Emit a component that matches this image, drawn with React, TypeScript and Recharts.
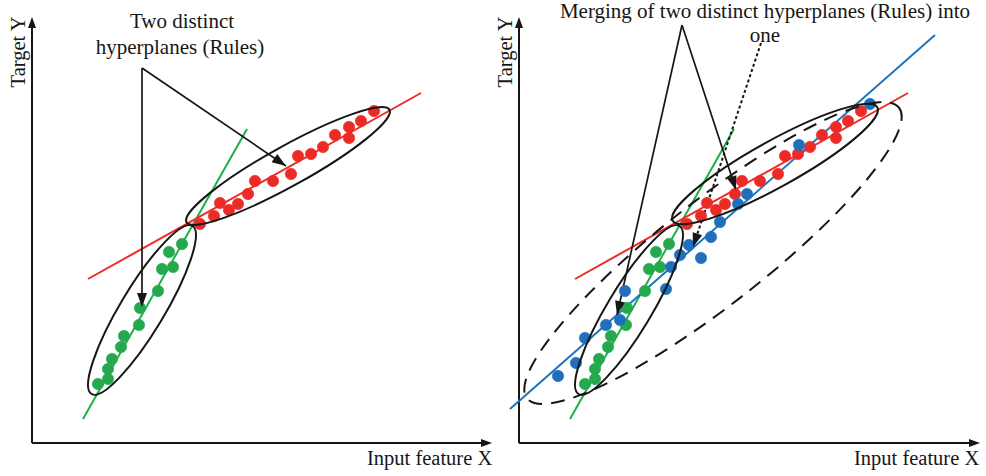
import { ScatterChart, Scatter, XAxis, YAxis, ReferenceLine, ReferenceDot } from 'recharts';

// points, origin at the axes corner, 1 unit ~ 1px
const greenPoints = [
  { x: 66, y: 59 }, { x: 76, y: 64 }, { x: 76, y: 74 }, { x: 80, y: 84 }, { x: 89, y: 96 },
  { x: 92, y: 107 }, { x: 107, y: 118 }, { x: 108, y: 135 }, { x: 126, y: 152 }, { x: 130, y: 174 },
  { x: 141, y: 176 }, { x: 137, y: 191 }, { x: 150, y: 199 },
];

const redPoints = [
  { x: 168, y: 219 }, { x: 182, y: 227 }, { x: 188, y: 240 }, { x: 197, y: 233 }, { x: 206, y: 239 },
  { x: 216, y: 249 }, { x: 223, y: 262 }, { x: 241, y: 262 }, { x: 259, y: 269 }, { x: 266, y: 287 },
  { x: 279, y: 289 }, { x: 291, y: 296 }, { x: 303, y: 308 }, { x: 317, y: 316 }, { x: 317, y: 305 },
  { x: 329, y: 322 }, { x: 342, y: 332 },
];

const bluePoints = [
  { x: 39, y: 67 }, { x: 57, y: 80 }, { x: 66, y: 105 }, { x: 87, y: 118 }, { x: 101, y: 123 },
  { x: 106, y: 152 }, { x: 147, y: 154 }, { x: 152, y: 176 }, { x: 161, y: 188 }, { x: 170, y: 198 },
  { x: 182, y: 185 }, { x: 192, y: 206 }, { x: 201, y: 221 }, { x: 219, y: 239 }, { x: 228, y: 249 },
  { x: 280, y: 298 }, { x: 351, y: 339 },
];

const greenFit = [{ x: 51, y: 24 }, { x: 215, y: 314 }];
const redFit = [{ x: 56, y: 164 }, { x: 389, y: 350 }];
const blueFit = [{ x: -9, y: 34 }, { x: 416, y: 408 }];

const leftClusters = [
  { x: 110, y: 133, rx: 98, ry: 22, angle: 59, dashed: false },
  { x: 256, y: 277, rx: 116, ry: 20, angle: 29, dashed: false },
];
const rightClusters = [
  { x: 110, y: 133, rx: 98, ry: 22, angle: 59, dashed: false },
  { x: 256, y: 279, rx: 117, ry: 23, angle: 29, dashed: false },
  { x: 194, y: 190, rx: 236, ry: 52, angle: 38, dashed: true },
];

const leftArrows = [
  { from: { x: 110, y: 375 }, to: { x: 110, y: 136 }, dotted: false },
  { from: { x: 110, y: 375 }, to: { x: 254, y: 277 }, dotted: false },
];
const rightArrows = [
  { from: { x: 163, y: 418 }, to: { x: 98, y: 128 }, dotted: false },
  { from: { x: 163, y: 418 }, to: { x: 217, y: 253 }, dotted: false },
  { from: { x: 242, y: 400 }, to: { x: 174, y: 196 }, dotted: true },
];

const leftNotes = [
  { x: 150, y: 415, text: 'Two distinct' },
  { x: 148, y: 389, text: 'hyperplanes (Rules)' },
];
const rightNotes = [
  { x: 246, y: 425, text: 'Merging of two distinct hyperplanes (Rules) into' },
  { x: 246, y: 401, text: 'one' },
];

const FONT = '"Liberation Serif", "Times New Roman", serif';
const INK = '#161616';

const dot = (color: string) => (p: any) => (
  <circle cx={p.cx} cy={p.cy} r={5.7} fill={color} stroke={color} strokeOpacity={0.6} strokeWidth={1} />
);

const ellipseShape = (e: any) => (p: any) => (
  <ellipse
    cx={p.cx}
    cy={p.cy}
    rx={e.rx}
    ry={e.ry}
    transform={`rotate(${-e.angle} ${p.cx} ${p.cy})`}
    fill="none"
    stroke={INK}
    strokeWidth={2}
    strokeDasharray={e.dashed ? '14 9' : undefined}
  />
);

const headShape = (angle: number, len = 12, half = 4.5) => (p: any) => (
  <polygon
    points={`${p.cx},${p.cy} ${p.cx - len},${p.cy - half} ${p.cx - len},${p.cy + half}`}
    transform={`rotate(${angle} ${p.cx} ${p.cy})`}
    fill={INK}
  />
);

// screen angle of an arrow (y axis points up in data, down on screen)
const screenAngle = (a: any, b: any) => (Math.atan2(-(b.y - a.y), b.x - a.x) * 180) / Math.PI;

const textShape = (t: any, size: number, anchor = 'middle', rotate = 0) => (p: any) => (
  <text
    x={p.cx}
    y={p.cy}
    textAnchor={anchor}
    fontFamily={FONT}
    fontSize={size}
    fill={INK}
    transform={rotate ? `rotate(${rotate} ${p.cx} ${p.cy})` : undefined}
  >
    {t}
  </text>
);

interface PanelProps {
  originX: number;
  xTip: number;
  showBlue: boolean;
  clusters: any[];
  arrows: any[];
  notes: any[];
}

const Panel = ({ originX, xTip, showBlue, clusters, arrows, notes }: PanelProps) => (
  <ScatterChart width={493} height={476} margin={{ top: 0, right: 0, bottom: 0, left: 0 }}>
    <XAxis type="number" dataKey="x" domain={[-originX, 493 - originX]} allowDataOverflow hide />
    <YAxis type="number" dataKey="y" domain={[-33, 443]} allowDataOverflow hide />

    {/* axes */}
    <ReferenceLine segment={[{ x: 0, y: 0 }, { x: xTip - 6, y: 0 }]} stroke={INK} strokeWidth={2} ifOverflow="visible" />
    <ReferenceLine segment={[{ x: 0, y: 0 }, { x: 0, y: 420 }]} stroke={INK} strokeWidth={2} ifOverflow="visible" />
    <ReferenceDot x={xTip} y={0} ifOverflow="visible" shape={headShape(0, 11, 4)} />
    <ReferenceDot x={0} y={426} ifOverflow="visible" shape={headShape(-90, 11, 4)} />

    <Scatter data={greenPoints} shape={dot('#25a94e')} isAnimationActive={false} />
    <Scatter data={redPoints} shape={dot('#ec2b27')} isAnimationActive={false} />
    {showBlue && <Scatter data={bluePoints} shape={dot('#1f6fbd')} isAnimationActive={false} />}

    <ReferenceLine segment={greenFit} stroke="#1eae4a" strokeWidth={2} ifOverflow="visible" />
    <ReferenceLine segment={redFit} stroke="#ee2b25" strokeWidth={2} ifOverflow="visible" />
    {showBlue && <ReferenceLine segment={blueFit} stroke="#1c74bd" strokeWidth={2} ifOverflow="visible" />}

    {clusters.map((c, i) => (
      <ReferenceDot key={`c${i}`} x={c.x} y={c.y} ifOverflow="visible" shape={ellipseShape(c)} />
    ))}

    {arrows.map((a, i) => (
      <ReferenceLine
        key={`a${i}`}
        segment={[a.from, a.to]}
        stroke={INK}
        strokeWidth={a.dotted ? 2 : 1.7}
        strokeDasharray={a.dotted ? '3 2.5' : undefined}
        ifOverflow="visible"
      />
    ))}
    {arrows.map((a, i) => (
      <ReferenceDot key={`h${i}`} x={a.to.x} y={a.to.y} ifOverflow="visible" shape={headShape(screenAngle(a.from, a.to), 14, 5)} />
    ))}

    {notes.map((n, i) => (
      <ReferenceDot key={`n${i}`} x={n.x} y={n.y} ifOverflow="visible" shape={textShape(n.text, 21)} />
    ))}
    <ReferenceDot x={-7} y={391} ifOverflow="visible" shape={textShape('Target Y', 20.5, 'middle', -90)} />
    <ReferenceDot x={335} y={-22} ifOverflow="visible" shape={textShape('Input feature X', 20.5, 'start')} />
  </ScatterChart>
);

export default function App() {
  return (
    <div style={{ position: 'absolute', left: 0, top: 0, width: 986, height: 476, display: 'flex', background: '#fff' }}>
      <Panel originX={32} xTip={460} showBlue={false} clusters={leftClusters} arrows={leftArrows} notes={leftNotes} />
      <Panel originX={26} xTip={461} showBlue clusters={rightClusters} arrows={rightArrows} notes={rightNotes} />
    </div>
  );
}
